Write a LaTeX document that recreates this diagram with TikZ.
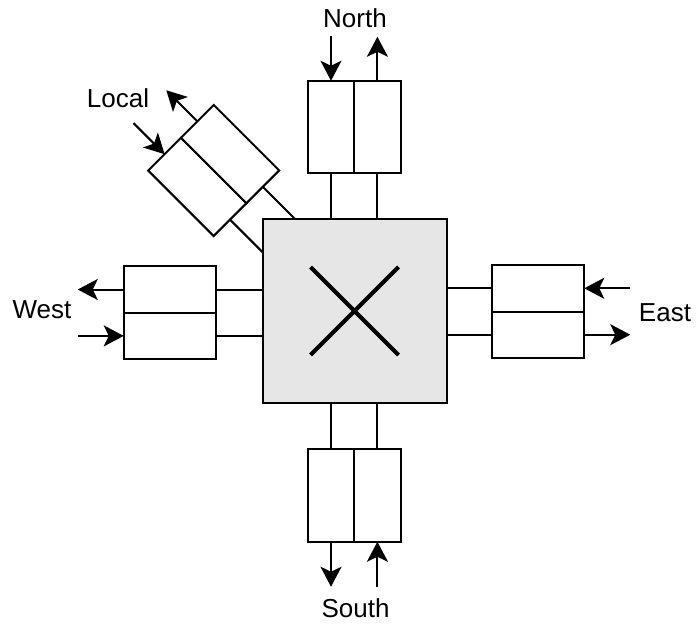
\documentclass[tikz,border=0pt]{standalone}
\usepackage{fontspec}
\setmainfont{Liberation Sans}
\usepackage{tikz}
\usetikzlibrary{arrows.meta,calc,positioning}
\definecolor{figInk}{HTML}{000000}
\definecolor{figCore}{HTML}{E6E6E6}
\tikzset{
  nochalf/.style={draw=figInk, fill=white, line width=2pt,
    inner sep=0pt, outer sep=0pt},
  nocvhalf/.style={nochalf, minimum width=46.4pt, minimum height=92.5pt},
  nochhalf/.style={nochalf, minimum width=92.5pt, minimum height=46.4pt},
  noccore/.style={draw=figInk, fill=figCore, line width=2pt,
    minimum size=184pt, inner sep=0pt, outer sep=0pt},
  nocwire/.style={draw=figInk, line width=2pt},
  nocflow/.style={-{Stealth[length=20pt,width=21pt,inset=5pt]},
    draw=figInk, line width=2pt},
  noclabel/.style={font=\fontsize{26}{30}\selectfont, text=figInk,
    inner sep=0pt},
}

\begin{document}
\begin{tikzpicture}[x=1pt,y=-1pt]
  \path[use as bounding box] (0,0) rectangle (696,626);

  % Crossbar in the middle.
  \node[noccore] (xbar) at (354.5,311) {};
  \draw[figInk,line width=4pt]
    ($(xbar.center)+(-44,-44)$) -- ($(xbar.center)+(44,44)$)
    ($(xbar.center)+(-44,44)$) -- ($(xbar.center)+(44,-44)$);

  % North port: input left, output right.
  \node[nocvhalf] (northIn) at (331,127) {};
  \node[nocvhalf,right=0pt of northIn] (northOut) {};
  \draw[nocwire] (northIn.south) -- (northIn.south |- xbar.north);
  \draw[nocwire] (northOut.south) -- (northOut.south |- xbar.north);
  \coordinate[above=45pt of northIn.north] (northInTail);
  \coordinate[above=44pt of northOut.north] (northOutHead);
  \draw[nocflow] (northInTail) -- (northIn.north);
  \draw[nocflow] (northOut.north) -- (northOutHead);
  \node[noclabel] (northLbl) at (355,18) {North};

  % South port: output left, input right.
  \node[nocvhalf] (southOut) at (331,495.5) {};
  \node[nocvhalf,right=0pt of southOut] (southIn) {};
  \draw[nocwire] (southOut.north) -- (southOut.north |- xbar.south);
  \draw[nocwire] (southIn.north) -- (southIn.north |- xbar.south);
  \coordinate[below=45pt of southOut.south] (southOutHead);
  \coordinate[below=45pt of southIn.south] (southInTail);
  \draw[nocflow] (southOut.south) -- (southOutHead);
  \draw[nocflow] (southInTail) -- (southIn.south);
  \node[noclabel] (southLbl) at (355.5,608) {South};

  % West port: output top, input bottom.
  \node[nochhalf] (westOut) at (170,289.5) {};
  \node[nochhalf,below=0pt of westOut] (westIn) {};
  \draw[nocwire] (westOut.east) -- (westOut.east -| xbar.west);
  \draw[nocwire] (westIn.east) -- (westIn.east -| xbar.west);
  \coordinate[left=46pt of westOut.west] (westOutHead);
  \coordinate[left=46pt of westIn.west] (westInTail);
  \draw[nocflow] (westOut.west) -- (westOutHead);
  \draw[nocflow] (westInTail) -- (westIn.west);
  \node[noclabel] (westLbl) at (42,310) {West};

  % East port: input top, output bottom.
  \node[nochhalf] (eastIn) at (538,288.3) {};
  \node[nochhalf,below=0pt of eastIn] (eastOut) {};
  \draw[nocwire] (eastIn.west) -- (eastIn.west -| xbar.east);
  \draw[nocwire] (eastOut.west) -- (eastOut.west -| xbar.east);
  \coordinate[right=46pt of eastIn.east] (eastInTail);
  \coordinate[right=46pt of eastOut.east] (eastOutHead);
  \draw[nocflow] (eastInTail) -- (eastIn.east);
  \draw[nocflow] (eastOut.east) -- (eastOutHead);
  \node[noclabel] (eastLbl) at (665,313) {East};

  % Local port, turned towards the crossbar corner.
  \node[nocvhalf,rotate=45] (localIn) at (197.3,186.9) {};
  \node[nocvhalf,rotate=45] (localOut) at (230.1,154.1) {};
  \draw[nocwire] (localIn.south) -- (intersection of
    localIn.north--localIn.south and xbar.north west--xbar.south west);
  \draw[nocwire] (localOut.south) -- (intersection of
    localOut.north--localOut.south and xbar.north west--xbar.north east);
  \coordinate (localInTail) at ($(localIn.north)!-44pt!(localIn.south)$);
  \coordinate (localOutHead) at ($(localOut.north)!-44pt!(localOut.south)$);
  \draw[nocflow] (localInTail) -- (localIn.north);
  \draw[nocflow] (localOut.north) -- (localOutHead);
  \node[noclabel] (localLbl) at (118,98) {Local};
\end{tikzpicture}
\end{document}
